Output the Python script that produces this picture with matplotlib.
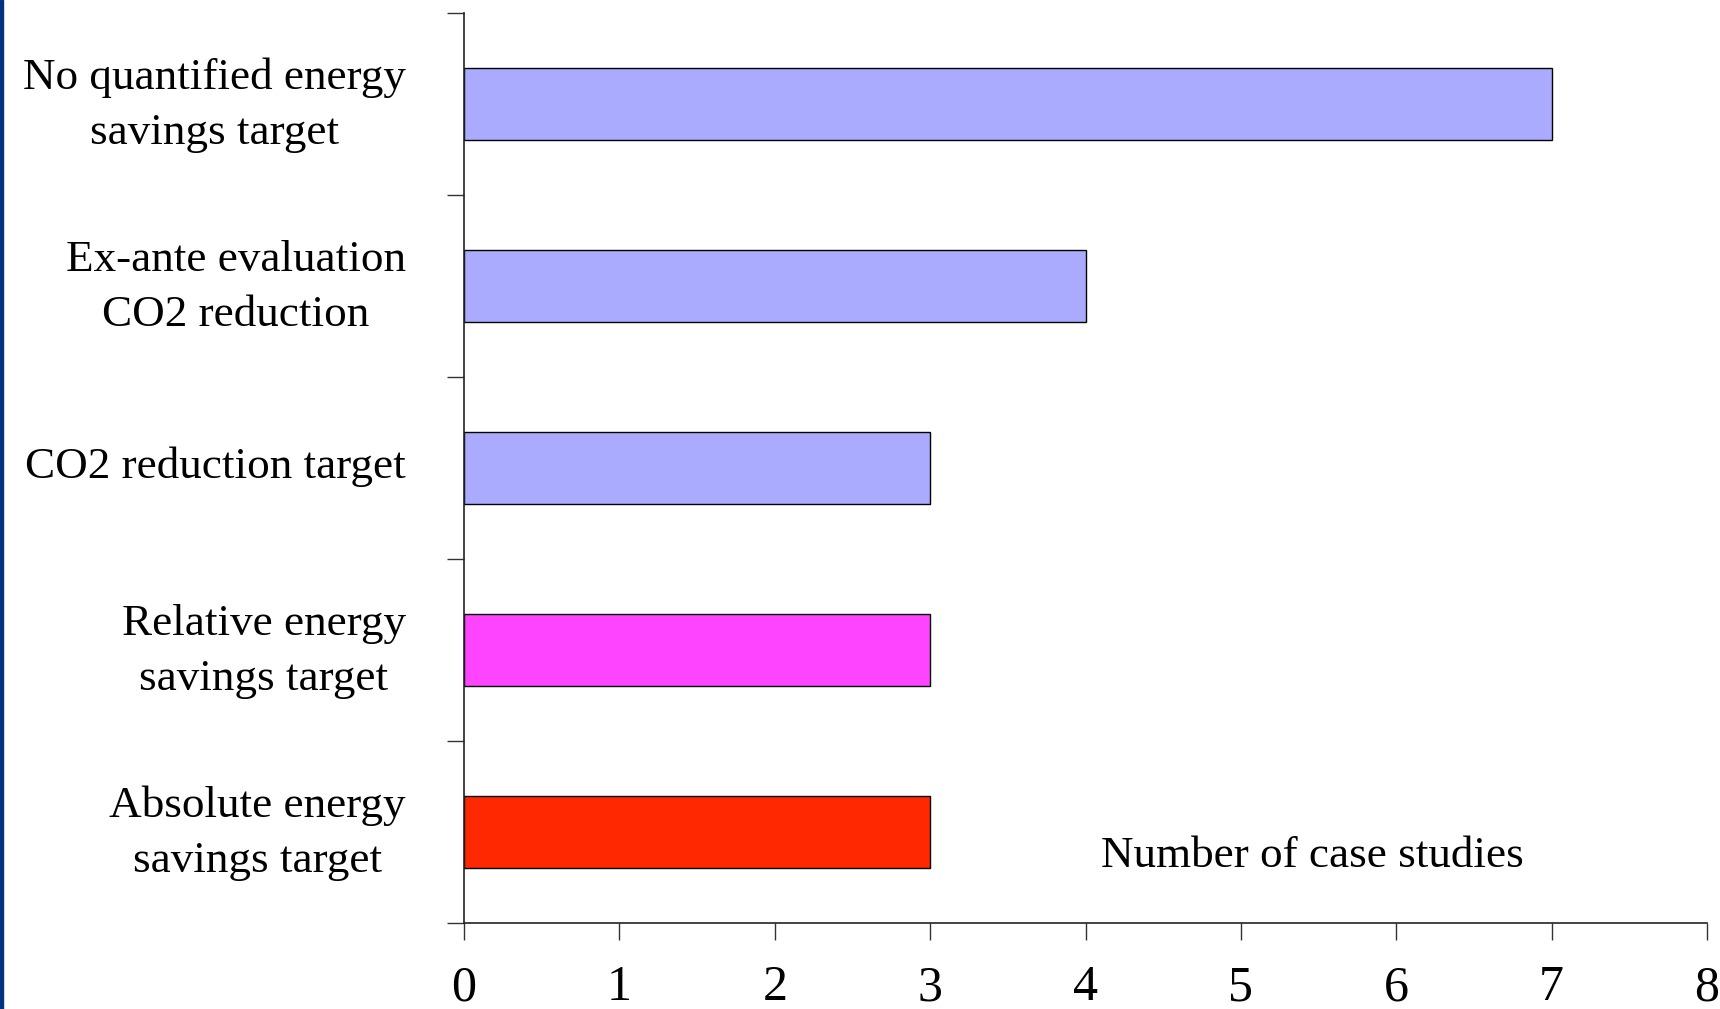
import numpy as np
import matplotlib.pyplot as plt
from matplotlib.patches import Rectangle

# categories, bottom to top
labels = ["Absolute energy\nsavings target",
          "Relative energy\nsavings target",
          "CO2 reduction target",
          "Ex-ante evaluation\nCO2 reduction",
          "No quantified energy\nsavings target"]
counts = [3, 3, 3, 4, 7]
colors = ["#FF2800", "#FF44FF", "#AAAAFF", "#AAAAFF", "#AAAAFF"]
xticks = [0, 1, 2, 3, 4, 5, 6, 7, 8]

plt.rcParams['font.family'] = ['Liberation Serif', 'DejaVu Serif']

fig = plt.figure(figsize=(17.2, 10.09), dpi=100)
ax = fig.add_axes([464/1720, 86/1009, 1243/1720, 910/1009])

y = np.arange(len(labels))
ax.barh(y, counts, height=0.4, color=colors, edgecolor='black', linewidth=1)

ax.set_xlim(0, 8)
ax.set_ylim(-0.5, len(labels) - 0.5)
ax.set_xticks(xticks)
ax.set_xticklabels([str(t) for t in xticks], fontsize=36)

# category labels sit between boundary ticks; two-line labels need a bigger nudge
nudge = np.array([0.06 if "\n" in s else 0.03 for s in labels])
ax.set_yticks(np.arange(-0.5, len(labels), 1.0))
ax.set_yticklabels([])
ax.set_yticks(y + nudge, minor=True)
ax.set_yticklabels(labels, minor=True, fontsize=32.5, multialignment='center',
                   linespacing=1.5)
ax.tick_params(axis='y', which='minor', length=0, pad=42)
ax.tick_params(axis='y', which='major', length=12, width=1, color='#333333')
ax.tick_params(axis='x', length=12, width=1, color='#333333', pad=18)

for side in ['top', 'right']:
    ax.spines[side].set_visible(False)
for side in ['left', 'bottom']:
    ax.spines[side].set_color('#222222')
    ax.spines[side].set_linewidth(1.2)

ax.text(5.46, -0.13, "Number of case studies", fontsize=32.5,
        ha='center', va='center')

# dark blue strip on the left edge
fig.patches.append(Rectangle((0, 0), 3/1720, 1, transform=fig.transFigure,
                             color='#003380', zorder=5))

fig.savefig("out.png", dpi=100)
